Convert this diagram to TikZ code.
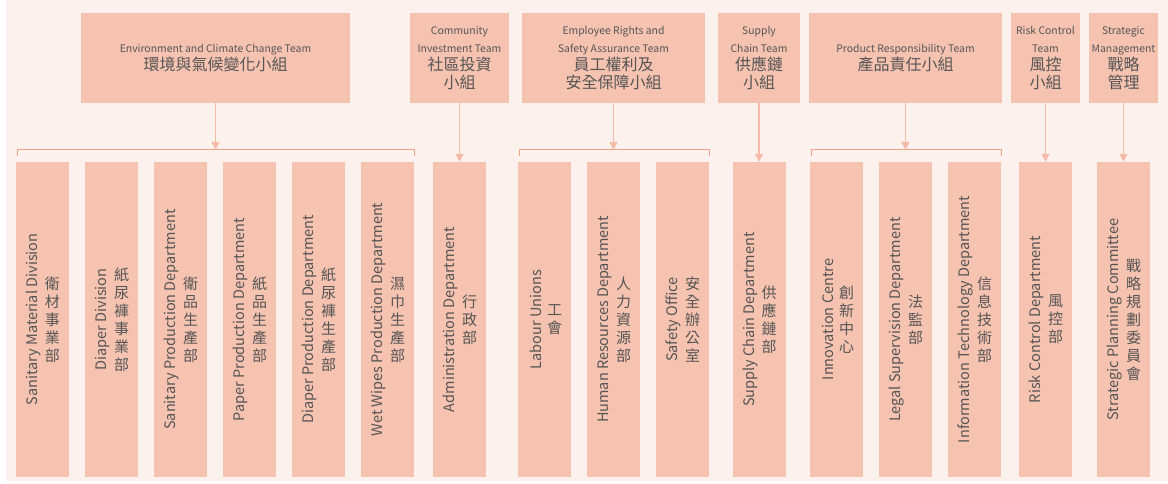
\documentclass[tikz,border=0pt]{standalone}
\usepackage{fontspec}
\setmainfont{Noto Sans CJK TC}
\usetikzlibrary{arrows.meta}

\definecolor{pagebg}{HTML}{FDF1EE}
\definecolor{boxfill}{HTML}{F6C3B1}
\definecolor{arrowline}{HTML}{F4BBA8}
\definecolor{braceline}{HTML}{F3A487}
\definecolor{textgray}{HTML}{555555}
\newcommand{\zhbig}[1]{{\fontsize{16}{18}\selectfont #1}}

\begin{document}
\begin{tikzpicture}[x=1pt,y=-1pt,
	team/.style={fill=boxfill,text=textgray,align=center,minimum height=90pt,inner sep=0pt,font=\fontsize{10.4}{18}\selectfont},
	dept/.style={fill=boxfill,minimum width=53pt,minimum height=315pt,inner sep=0pt},
	en/.style={text=textgray,rotate=90,inner sep=0pt,font=\fontsize{14.5}{16}\selectfont},
	zh/.style={text=textgray,align=center,inner sep=0pt,font=\fontsize{15}{18}\selectfont},
	feed/.style={draw=arrowline,line width=1.2pt,-{Triangle[width=8pt,length=8pt]}},
	brace/.style={draw=braceline,line width=1.1pt}]
	\fill[white] (0,0) rectangle (1168,484);
	\fill[pagebg] (6,0) rectangle (1168,481);
	% teams
	\node[team,minimum width=269pt] (envteam) at (215.5,58) {Environment and Climate Change Team\\\zhbig{環境與氣候變化小組}};
	\node[team,minimum width=99pt] (commteam) at (459.5,58) {Community\\Investment Team\\\zhbig{社區投資}\\\zhbig{小組}};
	\node[team,minimum width=183pt] (empteam) at (613.5,58) {Employee Rights and\\Safety Assurance Team\\\zhbig{員工權利及}\\\zhbig{安全保障小組}};
	\node[team,minimum width=82pt] (supteam) at (759,58) {Supply\\Chain Team\\\zhbig{供應鏈}\\\zhbig{小組}};
	\node[team,minimum width=193pt] (prodteam) at (905.5,58) {Product Responsibility Team\\\zhbig{產品責任小組}};
	\node[team,minimum width=69pt] (riskteam) at (1045.5,58) {Risk Control\\Team\\\zhbig{風控}\\\zhbig{小組}};
	\node[team,minimum width=69pt] (stratteam) at (1123.5,58) {Strategic\\Management\\\zhbig{戰略}\\\zhbig{管理}};
	% departments
	\foreach \x/\n/\en/\zh in {
		42.5/sanmat/{Sanitary Material Division}/{衛\\材\\事\\業\\部},
		111.5/diaper/{Diaper Division}/{紙\\尿\\褲\\事\\業\\部},
		180.5/sanprod/{Sanitary Production Department}/{衛\\品\\生\\產\\部},
		249.5/paper/{Paper Production Department}/{紙\\品\\生\\產\\部},
		318.5/diaprod/{Diaper Production Department}/{紙\\尿\\褲\\生\\產\\部},
		387.5/wipes/{Wet Wipes Production Department}/{濕\\巾\\生\\產\\部},
		459.5/admin/{Administration Department}/{行\\政\\部},
		544.5/labour/{Labour Unions}/{工\\會},
		613.5/hr/{Human Resources Department}/{人\\力\\資\\源\\部},
		682.5/safety/{Safety Office}/{安\\全\\辦\\公\\室},
		759/supdept/{Supply Chain Department}/{供\\應\\鏈\\部},
		836.5/innov/{Innovation Centre}/{創\\新\\中\\心},
		905.5/legal/{Legal Supervision Department}/{法\\監\\部},
		974.5/it/{Information Technology Department}/{信\\息\\技\\術\\部},
		1045.5/riskdept/{Risk Control Department}/{風\\控\\部},
		1123.5/plan/{Strategic Planning Committee}/{戰\\略\\規\\劃\\委\\員\\會}}
	{
		\node[dept] (\n) at (\x,319.5) {};
		\node[en] at ([xshift=-9pt]\n.center) {\en};
		\node[zh] at ([xshift=10pt]\n.center) {\zh};
	}
	% brackets
	\foreach \t/\a/\b in {envteam/sanmat/wipes, empteam/labour/safety, prodteam/innov/it}
	{
		\coordinate (\t L) at ([shift={(2pt,12pt)}]\a.north west);
		\coordinate (\t R) at ([shift={(0pt,12pt)}]\b.north east);
		\draw[brace] ([yshift=-6pt]\t L) -- (\t L) -- (\t R) -- ([yshift=-6pt]\t R);
		\draw[feed] (\t.south) -- (\t.south |- \t L);
	}
	\foreach \t/\d in {commteam/admin, supteam/supdept, riskteam/riskdept, stratteam/plan}
		\draw[feed] (\t.south) -- (\d.north);
\end{tikzpicture}
\end{document}
